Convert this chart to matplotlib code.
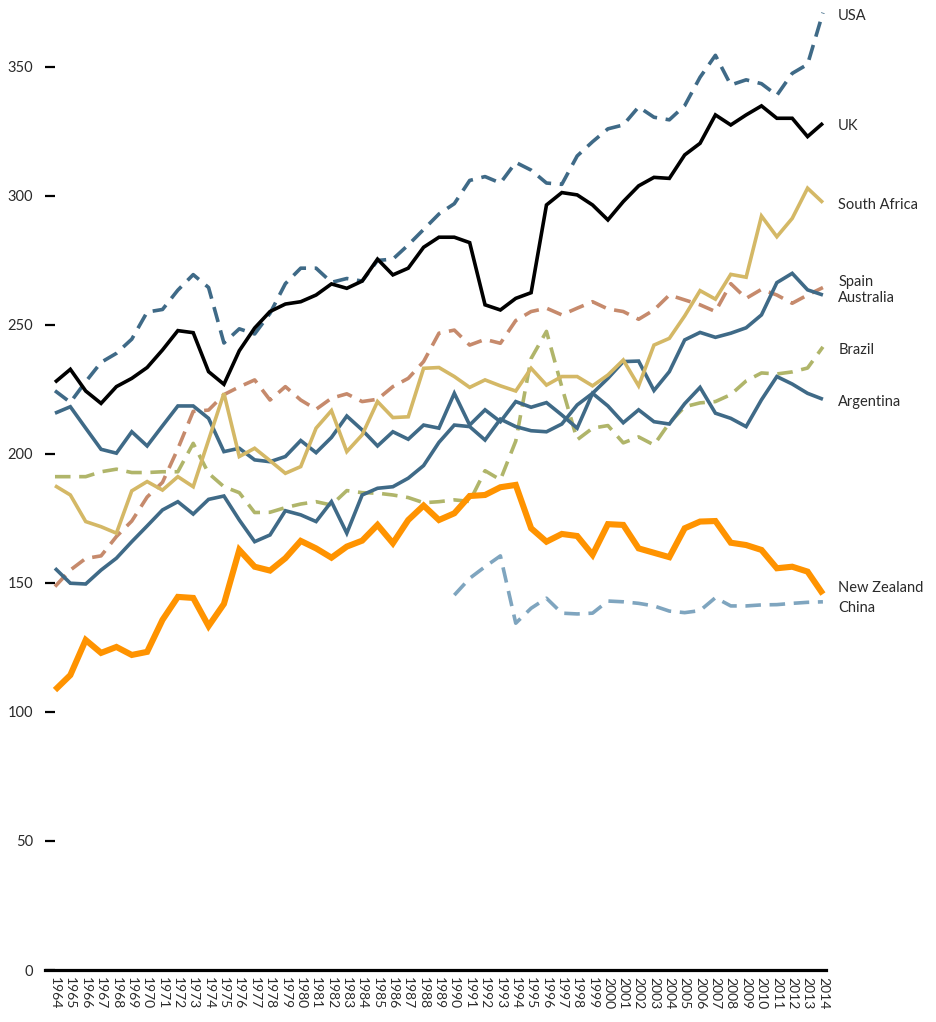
import numpy as np
import matplotlib
matplotlib.use("Agg")
import matplotlib.pyplot as plt

years = list(range(1964, 2015))

usa = [224.5, 220, 228, 235.5, 239, 244.5, 255, 256, 263.5, 269.5, 264.5, 243, 248.5,
       246.5, 254.5, 266, 272, 272, 266.5, 268, 267, 275, 275.5, 281, 287, 293, 297,
       306, 307.5, 305, 313, 310, 305, 304.5, 315.5, 321, 326, 327.5, 334.5, 330.5,
       329.5, 335, 346, 354.5, 343, 345, 343.5, 339, 347.5, 351, 371]
uk = [227.8, 232.8, 224.4, 219.6, 226.1, 229.3, 233.5, 240.3, 247.8, 247, 231.9, 227,
      240, 248.8, 255.2, 258.1, 259, 261.6, 265.9, 264.2, 267, 275.5, 269.4, 272, 280.1,
      284, 284, 281.9, 257.8, 255.8, 260.3, 262.5, 296.5, 301.3, 300.4, 296.5, 290.7,
      297.8, 303.9, 307.2, 306.8, 315.9, 320.4, 331.4, 327.5, 331.4, 334.9, 330.1,
      330.1, 323, 328.2]
south_africa = [187.7, 184.1, 173.8, 171.8, 169.3, 185.7, 189.3, 186, 191.2, 187.3, 205.4,
                223.5, 199, 202.2, 197.4, 192.5, 195.1, 210, 216.8, 200.9, 207.4, 220.3,
                214.1, 214.4, 233.2, 233.5, 230, 225.8, 228.7, 226.4, 224.4, 233.2, 226.7,
                230, 230, 226.4, 230.6, 236.4, 226.4, 242.2, 244.8, 253.5, 263.3, 260,
                269.6, 268.5, 292.2, 284.2, 291.3, 303, 297.4]
spain = [148.6, 155, 159.5, 160.5, 168, 174, 183.3, 189, 202, 216.5, 217, 223, 226, 228.7,
         220.9, 226.1, 220.9, 217.3, 221.6, 223.3, 220.3, 221.2, 226.1, 229.3, 235.8,
         246.8, 248, 242.2, 244.4, 242.9, 251.7, 255.2, 256.5, 253.9, 256.5, 259, 256.2,
         255.2, 252.2, 255.8, 261.6, 259.7, 257.8, 255.2, 266, 260.3, 263.8, 261.6,
         258.4, 261.6, 264.5]
australia = [155.7, 149.9, 149.6, 155, 159.6, 166, 172.1, 178.3, 181.5, 176.7, 182.4,
             183.7, 174.4, 166, 168.6, 178, 176.4, 173.8, 181.5, 169.3, 184.1, 186.7,
             187.3, 190.6, 195.5, 204.5, 211.2, 210.6, 205.4, 213.5, 210.6, 209, 208.6,
             211.6, 219, 223.5, 229.3, 235.8, 236, 224.6, 231.9, 244.2, 247.1, 245.2,
             246.8, 248.9, 253.9, 266.4, 270, 263.6, 261.6]
brazil = [191.2, 191.2, 191.2, 193.1, 194.1, 192.8, 192.8, 193.1, 193.1, 204.1, 192.5,
          187.3, 185, 177.3, 177.4, 179.2, 180.6, 181.5, 180.2, 185.8, 185, 184.8, 184.1,
          183.1, 181.1, 181.5, 182.2, 181.6, 193.5, 190, 205, 237, 247.5, 226, 205.5,
          210, 211, 204.3, 206.6, 203.5, 212, 218.3, 219.8, 220.3, 223, 228.3, 231.4,
          231, 231.8, 233.3, 241.5]
argentina = [215.8, 218.3, 210, 201.8, 200.3, 208.6, 203.1, 210.9, 218.6, 218.6, 213.8,
             200.9, 202.2, 197.7, 197, 199, 205.2, 200.5, 206.4, 214.7, 209.3, 203.1,
             208.6, 205.7, 211.2, 210, 223.5, 211.2, 217.1, 212.5, 220.3, 218.1, 219.9,
             215.1, 210, 223.5, 218.6, 212.1, 217.1, 212.5, 211.6, 219.5, 225.8, 215.8,
             213.8, 210.6, 221, 230, 227.1, 223.5, 221.2]
new_zealand = [108.5, 114.3, 127.9, 122.9, 125.2, 122.1, 123.3, 135.7, 144.6, 144.2, 133.3,
               141.9, 162.8, 156.3, 154.8, 159.6, 166.3, 163.4, 159.8, 164.1, 166.4, 172.5,
               165.4, 174.4, 180, 174.4, 177, 183.7, 184.1, 187.1, 188, 171.2, 166, 169,
               168.2, 160.9, 172.8, 172.5, 163.4, 161.7, 160, 171.2, 173.8, 174, 165.6,
               164.7, 162.8, 155.7, 156.3, 154.4, 145.7]
china_years = list(range(1990, 2015))
china = [145.3, 151.8, 156.3, 160.5, 134.4, 140.2, 144.1, 138.3, 138, 138.3, 143, 142.7,
         142.1, 141.1, 139.1, 138.5, 139.3, 144.3, 141.1, 141.1, 141.5, 141.6, 142.1,
         142.5, 142.7]

# name, x, y, colour, width, dashed, label nudge
series = [
    ("China", china_years, china, "#7fa5bf", 2.6, True, -1.2),
    ("Brazil", years, brazil, "#b0b56a", 2.6, True, 0),
    ("Spain", years, spain, "#c68a6c", 2.6, True, 3.2),
    ("Argentina", years, argentina, "#3f6a87", 2.6, False, 0),
    ("Australia", years, australia, "#3f6a87", 2.6, False, 0),
    ("South Africa", years, south_africa, "#d4b866", 2.6, False, 0),
    ("USA", years, usa, "#3f6a87", 2.6, True, 0),
    ("UK", years, uk, "#000000", 2.6, False, 0),
    ("New Zealand", years, new_zealand, "#ff9300", 4.4, False, 3.5),
]

plt.rcParams['font.family'] = ['Lato', 'DejaVu Sans']

fig = plt.figure(figsize=(9.36, 10.22), dpi=100)
ax = fig.add_axes([45 / 936, 1 - 970 / 1022, 781 / 936, 965 / 1022])

for name, xs, ys, color, lw, dashed, nudge in series:
    line, = ax.plot(xs, ys, color=color, lw=lw, solid_joinstyle="miter",
                    solid_capstyle="butt", clip_on=False)
    if dashed:
        line.set_dashes((4.3, 2.4))
        line.set_dash_capstyle("butt")
    ax.annotate(name, xy=(xs[-1], ys[-1] + nudge), xytext=(11, -2),
                textcoords="offset points", va="center", ha="left",
                fontsize=10.5, color="#2a2a2a")

ax.set_xlim(1963.35, 2014.2)
ax.set_ylim(0, 374)

for side in ["left", "right", "top"]:
    ax.spines[side].set_visible(False)
ax.spines["bottom"].set_linewidth(2.3)
ax.spines["bottom"].set_color("black")

ax.set_yticks([0, 50, 100, 150, 200, 250, 300, 350])
ax.tick_params(axis="y", direction="in", length=7.5, width=1.6, pad=8.5,
               labelsize=10.5, labelcolor="#2a2a2a", color="black")
ax.set_xticks(years)
ax.set_xticklabels([str(y) for y in years], rotation=270, fontsize=10,
                   color="#2a2a2a")
ax.tick_params(axis="x", length=0, pad=5)

fig.savefig("out.png", dpi=100)
